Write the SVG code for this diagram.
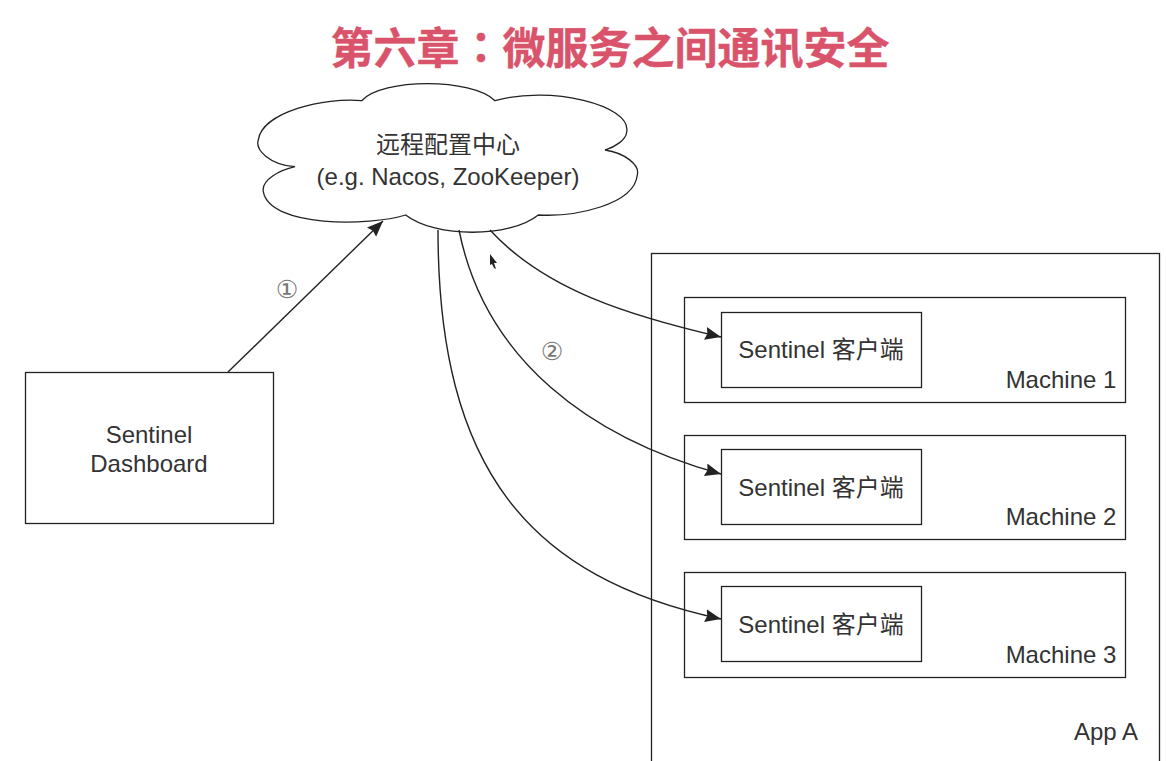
<svg xmlns="http://www.w3.org/2000/svg" width="1166" height="761" viewBox="0 0 1166 761">
<style>
.b{fill:#fff;stroke:#222;stroke-width:1.3}
.c{fill:none;stroke:#222;stroke-width:1.4;marker-end:url(#a)}
text{font-family:"Liberation Sans","Noto Sans CJK SC",sans-serif;font-size:24px;fill:#333;text-anchor:middle}
.t{font-family:"Noto Sans CJK SC",sans-serif;font-size:43px;font-weight:700;fill:#d9536b;stroke:#d9536b;stroke-width:.4}
.n{font-size:25px;fill:#777;font-family:"DejaVu Sans","Noto Sans CJK SC",sans-serif}
</style>
<defs><marker id="a" markerUnits="userSpaceOnUse" markerWidth="17" markerHeight="14" refX="16" refY="6.500" orient="auto"><path d="M0 0L16 6.500L0 13L2 6.500Z" fill="#222"/></marker></defs>
<rect width="1166" height="761" fill="#fff"/>
<text class="t" x="610" y="64">第六章<tspan font-family="Noto Sans CJK TC">：</tspan>微服务之间通讯安全</text>
<g id="app-a"><rect class="b" x="651.500" y="253.500" width="508" height="520"/><text x="1106" y="740">App A</text></g>
<g id="machine-1"><rect class="b" x="684.500" y="297.500" width="441" height="105"/><text x="1061" y="388">Machine 1</text></g>
<g id="machine-2"><rect class="b" x="684.500" y="435.500" width="441" height="104"/><text x="1061" y="525">Machine 2</text></g>
<g id="machine-3"><rect class="b" x="684.500" y="572.500" width="441" height="105"/><text x="1061" y="663">Machine 3</text></g>
<g id="client-1"><rect class="b" x="721.500" y="312.500" width="200" height="75"/><text x="821" y="358">Sentinel 客户端</text></g>
<g id="client-2"><rect class="b" x="721.500" y="449.500" width="200" height="75"/><text x="821" y="496">Sentinel 客户端</text></g>
<g id="client-3"><rect class="b" x="721.500" y="586.500" width="200" height="75"/><text x="821" y="633">Sentinel 客户端</text></g>
<g id="dashboard"><rect class="b" x="25.500" y="372.500" width="248" height="151"/><text x="149" y="443">Sentinel</text><text x="149" y="472">Dashboard</text></g>
<g id="cloud"><path class="b" d="M361.700 100.700C382 78 472 78 495 100.700C550 85 632 105 626.700 132C626 140 615 147 605 150C625 153 640 165 637.300 175C634 205 575 217 538.300 215C510 238 435 238 405.700 215C370 226 270 228 263.300 191.700C261 180 280 170 295 166.700C270 165 255 150 258.300 140C262 112 325 97 361.700 100.700Z"/><text x="448" y="153">远程配置中心</text><text x="448" y="185">(e.g. Nacos, ZooKeeper)</text></g>
<g id="connectors">
<path class="c" d="M228 372L383 221"/>
<path class="c" d="M490 230C545 290 630 316 721 337"/>
<path class="c" d="M459 230C485 360 590 438 721 474"/>
<path class="c" d="M438 230C438 470 530 578 721 619"/>
</g>
<g id="labels"><text class="n" x="287" y="298">①</text><text class="n" x="552" y="360">②</text></g>
<path id="cursor" d="M490 254L497 263L494 263L496 269L494 268L492 264L490 265Z" fill="#222"/>
</svg>
